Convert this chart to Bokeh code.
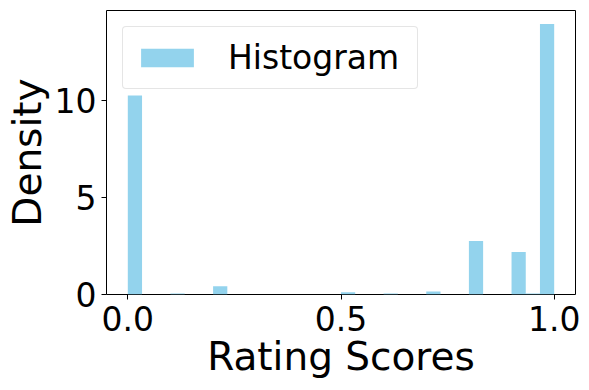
from bokeh.plotting import figure
from bokeh.models import Range1d, FixedTicker
from bokeh.embed import file_html
from bokeh.resources import INLINE
import numpy as np

# ---- data ----
n_bins = 30
bin_range = (0.0, 1.0)
densities = [10.25, 0.0, 0.0, 0.05, 0.0, 0.0, 0.43, 0.0, 0.0, 0.0,
             0.0, 0.0, 0.0, 0.0, 0.0, 0.12, 0.0, 0.0, 0.05, 0.0,
             0.0, 0.16, 0.0, 0.0, 2.76, 0.0, 0.0, 2.19, 0.05, 13.94]
x_ticks = [0.0, 0.5, 1.0]
x_tick_labels = ["0.0", "0.5", "1.0"]
y_ticks = [0, 5, 10]
y_tick_labels = ["0", "5", "10"]

edges = np.linspace(bin_range[0], bin_range[1], n_bins + 1)

FONT = "DejaVu Sans"

p = figure(width=589, height=390, output_backend="svg", toolbar_location=None,
           x_range=Range1d(-0.05, 1.05), y_range=Range1d(0, max(densities) * 1.05),
           min_border_left=106, min_border_right=14, min_border_top=10, min_border_bottom=96)

p.quad(left=edges[:-1], right=edges[1:], bottom=0, top=densities,
       fill_color="#87CEEB", fill_alpha=0.9, line_color=None, legend_label="Histogram")

p.xgrid.visible = False
p.ygrid.visible = False
p.outline_line_color = "black"
p.outline_line_width = 1
p.background_fill_color = "white"
p.border_fill_color = "white"

p.xaxis.ticker = FixedTicker(ticks=x_ticks)
p.xaxis.major_label_overrides = dict(zip(x_ticks, x_tick_labels))
p.yaxis.ticker = FixedTicker(ticks=y_ticks)
p.yaxis.major_label_overrides = dict(zip(y_ticks, y_tick_labels))

for ax in (p.xaxis[0], p.yaxis[0]):
    ax.axis_line_color = None
    ax.major_tick_line_color = "black"
    ax.major_tick_out = 5
    ax.major_tick_in = 0
    ax.minor_tick_line_color = None
    ax.major_label_text_font = FONT
    ax.major_label_text_font_size = "33px"
    ax.major_label_text_color = "black"
    ax.axis_label_text_font = FONT
    ax.axis_label_text_font_size = "39px"
    ax.axis_label_text_font_style = "normal"
    ax.axis_label_text_color = "black"
    ax.major_label_standoff = 5

p.xaxis.major_label_standoff = 6
p.xaxis.axis_label = "Rating Scores"
p.xaxis.axis_label_standoff = 0
p.yaxis.axis_label = "Density"
p.yaxis.axis_label_standoff = 2

lg = p.legend[0]
lg.location = "top_left"
lg.margin = 16
lg.padding = 11
lg.glyph_width = 66
lg.glyph_height = 23
lg.label_standoff = 28
lg.label_width = 178
lg.label_text_font = FONT
lg.label_text_font_size = "33px"
lg.label_text_color = "black"
lg.border_line_color = "#cccccc"
lg.border_line_width = 1
lg.background_fill_color = "white"
lg.background_fill_alpha = 0.8
lg.spacing = 0
if "border_radius" in lg.properties():
    lg.border_radius = 4

open("out.html", "w").write(file_html(p, INLINE))
